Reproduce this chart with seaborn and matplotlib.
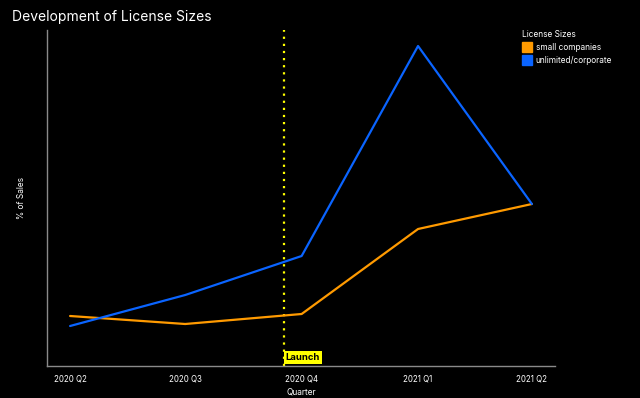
import matplotlib
matplotlib.use("Agg")
import matplotlib.pyplot as plt
import matplotlib.dates as mdates
import matplotlib.patches as mpatches
import seaborn as sns
import pandas as pd

quarters = ["2020-04-01", "2020-07-01", "2020-10-01", "2021-01-01", "2021-04-01"]
quarter_labels = ["2020 Q2", "2020 Q3", "2020 Q4", "2021 Q1", "2021 Q2"]
small_companies = [5.0, 4.2, 5.2, 13.7, 16.2]
unlimited_corporate = [4.0, 7.1, 11.0, 32.0, 16.2]
series_names = ["small companies", "unlimited/corporate"]
launch_date = "2020-09-17"

colors = {"small companies": "#FF9A00", "unlimited/corporate": "#0A64FF"}

df = pd.DataFrame({
    "Quarter": pd.to_datetime(quarters * 2),
    "% of Sales": small_companies + unlimited_corporate,
    "License Sizes": [series_names[0]] * 5 + [series_names[1]] * 5,
})

sns.set_style("dark")
plt.rcParams["font.family"] = ["Inter", "DejaVu Sans"]

fig = plt.figure(figsize=(6.4, 3.98), dpi=100, facecolor="black")
ax = fig.add_axes([47/640, 32/398, 508/640, 336/398])
ax.set_facecolor("black")

ax.axvline(pd.Timestamp(launch_date), color="#FFFF00", linestyle=(0, (1, 2.2)), lw=1.6, zorder=1)

sns.lineplot(data=df, x="Quarter", y="% of Sales", hue="License Sizes",
             palette=colors, lw=1.6, ax=ax, legend=False, zorder=3)

ax.margins(x=0.05)
ax.set_ylim(0, max(unlimited_corporate) * 1.05)

ax.set_xticks(pd.to_datetime(quarters))
ax.set_xticklabels(quarter_labels)
ax.xaxis.set_minor_locator(mdates.MonthLocator())
ax.tick_params(axis="x", which="major", color="#888888", labelsize=5.7, length=3,
               width=0.8, labelcolor="white", pad=3)
ax.tick_params(axis="x", which="minor", colors="#888888", length=2, width=0.6)
ax.set_yticks([])
ax.grid(False)

for s in ["top", "right"]:
    ax.spines[s].set_visible(False)
for s in ["left", "bottom"]:
    ax.spines[s].set_visible(True)
    ax.spines[s].set_color("#8a8a8a")
    ax.spines[s].set_linewidth(1.0)

ax.set_xlabel("Quarter", color="white", fontsize=6, labelpad=3)
ax.set_ylabel("% of Sales", color="white", fontsize=6, labelpad=15)

ax.text(pd.Timestamp(launch_date) + pd.Timedelta(days=1.5), 0.4, "Launch",
        fontsize=6.8, fontweight="bold", color="black", ha="left", va="bottom",
        bbox=dict(boxstyle="square,pad=0.2", fc="#FFFF00", ec="none"), zorder=4)

fig.text(12/640, 1 - 17/398, "Development of License Sizes", color="white",
         fontsize=10, ha="left", va="center")

handles = [mpatches.Patch(color=colors[n], label=n) for n in series_names]
leg = ax.legend(handles=handles, title="License Sizes", loc="upper left",
                bbox_to_anchor=(522/640, 1 - 30/398), bbox_transform=fig.transFigure,
                frameon=False, fontsize=6, title_fontsize=6,
                handlelength=1.2, handleheight=1.4, handletextpad=0.45, labelspacing=0.4,
                borderaxespad=0, borderpad=0)
leg._legend_box.align = "left"
for t in leg.get_texts():
    t.set_color("white")
leg.get_title().set_color("white")

fig.savefig("out.png", dpi=100, facecolor="black")
